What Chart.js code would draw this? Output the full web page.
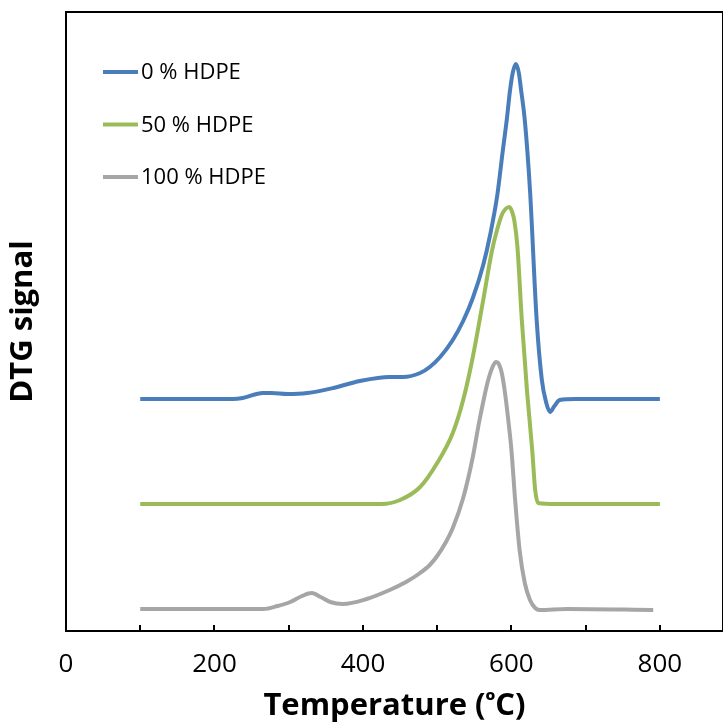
<!DOCTYPE html>
<html>
<head>
<meta charset="utf-8">
<script src="https://cdn.jsdelivr.net/npm/chart.js@4/dist/chart.umd.min.js"></script>
<style>
  html, body { margin: 0; padding: 0; background: #fff; }
  #wrap { width: 723px; height: 725px; }
</style>
</head>
<body>
<div id="wrap"><canvas id="dtg" width="723" height="725"></canvas></div>
<script>
// Series data: [temperature °C, DTG signal (arbitrary units)]
const seriesNames = ['0 % HDPE', '50 % HDPE', '100 % HDPE'];
const seriesColors = ['#4A7EBB', '#9BBB59', '#A6A6A6'];

const hdpe0 = [[100,232],[225,232],[238,233],[265,238],[277,238],[298,237],[325,238],[360,243],[396,250],[436,254],[454,254],[477,258],[490,264],[504,274],[521,291],[535,310],[548,333],[562,366],[571,395],[581,436],[588,478],[594,513],[598,540],[602,559],[606,567],[610,558],[613,541],[618,511],[625,441],[634,311],[641,251],[647,228],[652,219],[658,225],[665,231],[686,232],[800,232]];
const hdpe50 = [[100,127],[425,127],[450,131],[477,144],[500,168],[521,198],[535,231],[548,274],[562,331],[574,381],[581,402],[587,416],[592,422],[597,424],[601,419],[604,410],[608,385],[614,311],[621,240],[628,181],[632,141],[636,128],[660,127],[800,127]];
const hdpe100 = [[100,22],[266,22],[285,25],[302,29],[318,35],[331,38],[343,34],[356,29],[373,27],[405,32],[436,41],[458,49],[477,58],[490,66],[500,75],[511,88],[521,103],[535,133],[548,174],[556,207],[562,229],[568,249],[574,263],[579,269],[583,267],[587,258],[591,240],[595,216],[600,181],[605,131],[611,81],[618,48],[625,31],[632,23],[638,21],[675,22],[791,21]];

// x-axis ticks: every 100, labels only every 200
const xTicks = [100, 200, 300, 400, 500, 600, 700, 800];
const xLabels = [0, 200, 400, 600, 800];

const FONT = '"Open Sans", Lato, sans-serif';

// Rahmen und nach innen zeigende Teilstriche
const framePlugin = {
  id: 'frame',
  afterDraw(chart) {
    const { ctx, chartArea: a, scales } = chart;
    ctx.save();
    ctx.strokeStyle = '#000';
    ctx.lineWidth = 2;
    ctx.strokeRect(a.left, a.top, a.right - a.left, a.bottom - a.top);
    ctx.beginPath();
    xTicks.forEach(v => {
      const x = Math.round(scales.x.getPixelForValue(v));
      ctx.moveTo(x, a.bottom);
      ctx.lineTo(x, a.bottom - 6);
    });
    ctx.stroke();
    ctx.restore();
  }
};

// Legende oben links im Diagramm
const legendPlugin = {
  id: 'innerLegend',
  afterDraw(chart) {
    const { ctx, chartArea: a } = chart;
    ctx.save();
    ctx.font = '22px ' + FONT;
    ctx.textBaseline = 'middle';
    chart.data.datasets.forEach((ds, i) => {
      const y = a.top + 60 + i * 52.5;
      ctx.strokeStyle = ds.borderColor;
      ctx.lineWidth = 4;
      ctx.beginPath();
      ctx.moveTo(a.left + 37, y);
      ctx.lineTo(a.left + 72, y);
      ctx.stroke();
      ctx.fillStyle = '#000';
      ctx.fillText(ds.label, a.left + 75, y + 1);
    });
    ctx.restore();
  }
};

const toPoints = arr => arr.map(p => ({ x: p[0], y: p[1] }));
const allSeries = [hdpe0, hdpe50, hdpe100];

new Chart(document.getElementById('dtg'), {
  type: 'line',
  data: {
    datasets: allSeries.map((s, i) => ({
      label: seriesNames[i],
      data: toPoints(s),
      borderColor: seriesColors[i],
      borderWidth: 4,
      pointRadius: 0,
      cubicInterpolationMode: 'monotone',
      fill: false
    }))
  },
  options: {
    responsive: false,
    animation: false,
    layout: { padding: { top: 12, right: 0, left: 0, bottom: 0 } },
    plugins: { legend: { display: false }, tooltip: { enabled: false } },
    scales: {
      x: {
        type: 'linear',
        min: 0,
        max: 885,
        afterFit(scale) { scale.height = 94; },
        grid: { display: false, drawTicks: false },
        border: { display: false },
        ticks: {
          stepSize: 200,
          includeBounds: false,
          padding: 18,
          color: '#000',
          font: { family: FONT, size: 26 },
          callback: v => (xLabels.includes(v) ? String(v) : '')
        },
        title: {
          display: true,
          text: 'Temperature (ᵒC)',
          color: '#000',
          font: { family: FONT, size: 31, weight: 'bold' },
          padding: { top: 0, bottom: 0 }
        }
      },
      y: {
        min: 0,
        max: 619,
        afterFit(scale) { scale.width = 66; },
        grid: { display: false, drawTicks: false },
        border: { display: false },
        ticks: { display: false },
        title: {
          display: true,
          text: 'DTG signal',
          color: '#000',
          font: { family: FONT, size: 31, weight: 'bold' },
          padding: { top: 5, bottom: 0 }
        }
      }
    }
  },
  plugins: [framePlugin, legendPlugin]
});
</script>
</body>
</html>
